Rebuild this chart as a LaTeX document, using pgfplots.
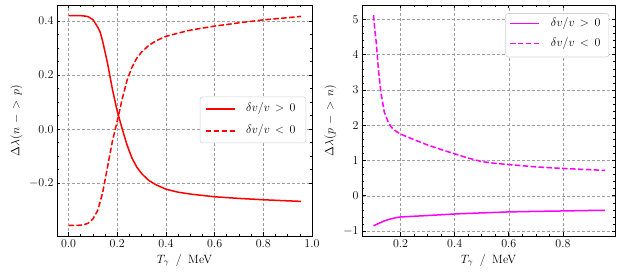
\documentclass[border=0pt]{standalone}
\usepackage{pgfplots}
\pgfplotsset{compat=1.18}
\pgfplotstableread{
x y
0.000 0.420
0.030 0.420
0.060 0.419
0.080 0.416
0.100 0.405
0.120 0.377
0.130 0.358
0.140 0.325
0.160 0.244
0.180 0.148
0.200 0.066
0.220 0.002
0.240 -0.058
0.260 -0.106
0.280 -0.140
0.300 -0.164
0.330 -0.190
0.360 -0.206
0.400 -0.222
0.450 -0.233
0.500 -0.240
0.600 -0.250
0.700 -0.256
0.800 -0.261
0.900 -0.265
0.955 -0.267
}\lpos
\pgfplotstableread{
x y
0.000 -0.356
0.030 -0.356
0.060 -0.354
0.080 -0.348
0.100 -0.332
0.120 -0.300
0.140 -0.235
0.160 -0.140
0.180 -0.045
0.200 0.030
0.220 0.110
0.240 0.180
0.260 0.228
0.280 0.262
0.300 0.285
0.330 0.310
0.360 0.327
0.400 0.343
0.450 0.355
0.500 0.366
0.600 0.381
0.700 0.393
0.800 0.404
0.900 0.412
0.955 0.417
}\lneg
\pgfplotstableread{
x y
0.100 -0.850
0.120 -0.780
0.140 -0.712
0.160 -0.662
0.180 -0.625
0.200 -0.600
0.300 -0.560
0.400 -0.515
0.500 -0.485
0.600 -0.457
0.700 -0.442
0.800 -0.430
0.900 -0.416
0.955 -0.410
}\rpos
\pgfplotstableread{
x y
0.100 5.12
0.105 4.70
0.110 4.36
0.118 3.60
0.127 2.95
0.140 2.37
0.155 2.08
0.168 1.93
0.185 1.82
0.200 1.75
0.250 1.59
0.300 1.44
0.350 1.31
0.400 1.19
0.450 1.07
0.500 0.97
0.550 0.92
0.600 0.885
0.700 0.820
0.800 0.775
0.900 0.740
0.955 0.720
}\rneg
\definecolor{mplred}{RGB}{255,0,0}
\definecolor{mplmag}{RGB}{255,0,255}
\pgfplotsset{
  sci/.style={
    scale only axis, height=231pt,
    axis line style={line width=0.8pt},
    tick pos=both, tick align=inside,
    major tick length=3.5pt, minor tick length=2pt,
    every tick/.style={black, line width=0.6pt},
    grid=major,
    major grid style={densely dashed, gray!75, line width=0.45pt},
    minor x tick num=3,
    xticklabel style={/pgf/number format/.cd, fixed, fixed zerofill, precision=1},
    xlabel={$T_\gamma$\hspace{0.55em}/\hspace{0.55em}MeV},
  },
  legax/.style={scale only axis, height=231pt, xmin=0, xmax=1, ymin=0, ymax=1,
    hide axis, clip=false},
}
\newcommand{\lgp}{$\delta v/v\mskip8mu{>}\mskip8mu 0$}
\newcommand{\lgn}{$\delta v/v\mskip8mu{<}\mskip8mu 0$}
\begin{document}
\begin{tikzpicture}[font=\fontsize{12}{14}\selectfont]
\path (-57pt,-42pt) rectangle (564pt,236pt);
% left panel
\begin{axis}[sci, at={(0pt,0pt)}, anchor=south west, width=255pt,
  xmin=-0.0475, xmax=1.0, ymin=-0.395, ymax=0.459,
  xtick={0,0.2,0.4,0.6,0.8,1.0}, ytick={-0.2,0,0.2,0.4},
  minor y tick num=3,
  yticklabel style={/pgf/number format/.cd, fixed, fixed zerofill, precision=1},
  ylabel={$\Delta\lambda(n\mskip7mu{-}\mskip7mu{>}\mskip7mu p)$},
]
\addplot[color=mplred, line width=1.5pt, solid] table {\lpos};
\addplot[color=mplred, line width=1.5pt, dash pattern=on 5.5pt off 2.4pt] table {\lneg};
\end{axis}
\begin{axis}[legax, at={(0pt,0pt)}, anchor=south west, width=255pt]
\draw[gray!35, line width=0.6pt, fill=white, rounded corners=2.5pt] (axis cs:0.561,0.403) rectangle (axis cs:0.976,0.602);
\end{axis}
\begin{axis}[legax, at={(0pt,0pt)}, anchor=south west, width=255pt]
\addplot[color=mplred, line width=1.5pt, solid] coordinates {(0.584,0.550) (0.698,0.550)};
\addplot[color=mplred, line width=1.5pt, dash pattern=on 5.5pt off 2.4pt] coordinates {(0.584,0.455) (0.698,0.455)};
\node[anchor=west, inner sep=0pt] at (axis cs:0.741,0.550) {\lgp};
\node[anchor=west, inner sep=0pt] at (axis cs:0.741,0.455) {\lgn};
\end{axis}
% right panel
\begin{axis}[sci, at={(305pt,0pt)}, anchor=south west, width=253pt,
  xmin=0.0575, xmax=0.9925, ymin=-1.14, ymax=5.41,
  xtick={0.2,0.4,0.6,0.8}, ytick={-1,0,1,2,3,4,5},
  minor y tick num=4,
  ylabel={$\Delta\lambda(p\mskip7mu{-}\mskip7mu{>}\mskip7mu n)$},
]
\addplot[color=mplmag, line width=1.5pt, solid] table {\rpos};
\addplot[color=mplmag, line width=1.5pt, dash pattern=on 5.5pt off 2.4pt] table {\rneg};
\end{axis}
\begin{axis}[legax, at={(305pt,0pt)}, anchor=south west, width=253pt]
\draw[gray!35, line width=0.6pt, fill=white, rounded corners=2.5pt] (axis cs:0.568,0.775) rectangle (axis cs:0.976,0.963);
\end{axis}
\begin{axis}[legax, at={(305pt,0pt)}, anchor=south west, width=253pt]
\addplot[color=mplmag, line width=1.5pt, solid] coordinates {(0.585,0.919) (0.701,0.919)};
\addplot[color=mplmag, line width=1.5pt, dash pattern=on 5.5pt off 2.4pt] coordinates {(0.585,0.833) (0.701,0.833)};
\node[anchor=west, inner sep=0pt] at (axis cs:0.746,0.919) {\lgp};
\node[anchor=west, inner sep=0pt] at (axis cs:0.746,0.833) {\lgn};
\end{axis}
\end{tikzpicture}
\end{document}
